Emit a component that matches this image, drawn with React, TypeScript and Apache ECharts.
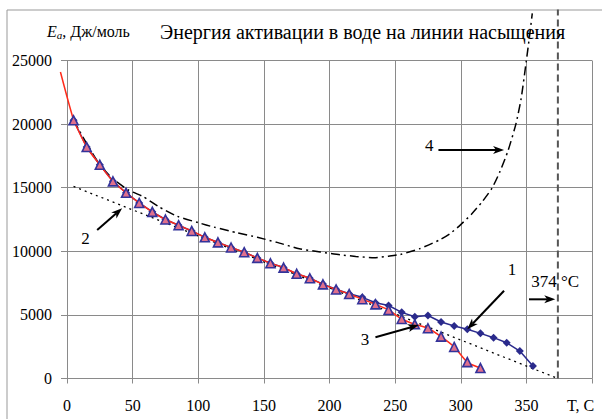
import React, { useEffect, useRef } from 'react';
import * as echarts from 'echarts';

// Curve 1 (blue diamonds)
const T1 = [5, 15, 25, 35, 45, 55, 65, 75, 85, 95, 105, 115, 125, 135, 145, 155, 165, 175, 185, 195, 205, 215, 225, 235, 245, 255, 265, 275, 285, 295, 305, 315, 325, 335, 345, 355];
const E1 = [20300, 18200, 16800, 15500, 14600, 13800, 13100, 12500, 12050, 11600, 11100, 10700, 10300, 9930, 9480, 9060, 8720, 8230, 7880, 7420, 7020, 6660, 6380, 5960, 5740, 5200, 4860, 4950, 4440, 4130, 3870, 3550, 3210, 2810, 2160, 990];

// Curve 3 (red line with triangles)
const T3 = [5, 15, 25, 35, 45, 55, 65, 75, 85, 95, 105, 115, 125, 135, 145, 155, 165, 175, 185, 195, 205, 215, 225, 235, 245, 255, 265, 275, 285, 295, 305, 315];
const E3 = [20300, 18200, 16800, 15500, 14600, 13800, 13100, 12500, 12050, 11600, 11100, 10700, 10300, 9930, 9480, 9060, 8720, 8230, 7880, 7400, 7000, 6640, 6230, 5830, 5390, 4680, 4260, 3950, 3290, 2480, 1290, 820];
// Start of the red fitted line (no markers), reaching left of the axis
const T3_START = [-5, 0, 5];
const E3_START = [24100, 22150, 20300];

// Curve 2 (dotted straight line)
const T2 = [5, 374];
const E2 = [15100, 0];

// Curve 4 (dash-dot)
const T4 = [5, 12, 25, 35, 47, 58, 70, 84, 100, 112, 130, 145, 160, 177, 193, 208, 220, 234, 245, 254, 269, 284, 292, 300, 308, 316, 324, 330, 336, 342, 346, 350, 352.5, 354.5];
const E4 = [20300, 19000, 16800, 15700, 14800, 14300, 13500, 12750, 12250, 11900, 11450, 11100, 10700, 10200, 9950, 9720, 9600, 9500, 9620, 9750, 10220, 10900, 11400, 12100, 12900, 13850, 15000, 16300, 17900, 20000, 22000, 25000, 27000, 28700];

// Critical temperature line
const TCRIT = [374, 374];
const ECRIT = [0, 29000];

const X_MIN = 0, X_MAX = 400, X_STEP = 50;
const Y_MIN = 0, Y_MAX = 25000, Y_STEP = 5000;
const X_TICKS = [0, 50, 100, 150, 200, 250, 300, 350];
const Y_TICKS = [0, 5000, 10000, 15000, 20000, 25000];

const TITLE = 'Энергия активации в воде на линии насыщения';
const X_NAME = 'T, C';
const CRIT_LABEL = '374 °C';

// Annotations in data coordinates: label position, arrow tail, arrow tip
const ANNOTATIONS = [
  { text: '1', at: [339, 8600], from: [333, 6900], to: [305, 3870] },
  { text: '2', at: [14, 11000], from: [23, 11670], to: [42, 13380] },
  { text: '3', at: [227, 3030], from: [235, 3240], to: [268, 4200] },
  { text: '4', at: [276, 18350], from: [283, 17960], to: [333, 17960] },
  { text: CRIT_LABEL, at: [372, 7600], from: [352, 6225], to: [372, 6225] },
];

const FONT = 'Liberation Serif';
const GRID_COLOR = '#8a8a8a';
const RED = '#ff2a1a';

function zip(xs: number[], ys: number[]) {
  return xs.map((x, i) => [x, ys[i]]);
}

function arrow(p0: number[], p1: number[]) {
  const dx = p1[0] - p0[0];
  const dy = p1[1] - p0[1];
  const len = Math.sqrt(dx * dx + dy * dy) || 1;
  const ux = dx / len, uy = dy / len;
  const hl = 11, hw = 4;
  const bx = p1[0] - ux * hl, by = p1[1] - uy * hl;
  return [
    {
      type: 'line',
      shape: { x1: p0[0], y1: p0[1], x2: bx + ux * 3, y2: by + uy * 3 },
      style: { stroke: '#000', lineWidth: 2 },
      silent: true,
    },
    {
      type: 'polygon',
      shape: {
        points: [
          [p1[0], p1[1]],
          [bx - uy * hw, by + ux * hw],
          [bx + ux * 3, by + uy * 3],
          [bx + uy * hw, by - ux * hw],
        ],
      },
      style: { fill: '#000' },
      silent: true,
    },
  ];
}

const txt = (text: string, x: number, y: number, align: string, size = 16) => ({
  type: 'text',
  x,
  y,
  style: { text, fontFamily: FONT, fontSize: size, fill: '#000', align, verticalAlign: 'middle' },
  z: 10,
});

export default function App() {
  const ref = useRef<HTMLDivElement>(null);
  useEffect(() => {
    if (!ref.current) return;
    const chart = echarts.init(ref.current, null, { renderer: 'svg' });
    const option: any = {
      animation: false,
      backgroundColor: '#fff',
      grid: { left: 67, right: 10, top: 60.5, bottom: 40.5, containLabel: false },
      xAxis: {
        type: 'value',
        min: X_MIN,
        max: X_MAX,
        interval: X_STEP,
        axisLine: { show: true, lineStyle: { color: GRID_COLOR, width: 1 } },
        axisTick: { show: true, inside: false, length: 5, lineStyle: { color: GRID_COLOR } },
        axisLabel: { show: false },
        splitLine: { show: true, lineStyle: { color: GRID_COLOR, width: 1 } },
      },
      yAxis: {
        type: 'value',
        min: Y_MIN,
        max: Y_MAX,
        interval: Y_STEP,
        axisLine: { show: true, lineStyle: { color: GRID_COLOR, width: 1 } },
        axisTick: { show: true, inside: false, length: 6, lineStyle: { color: GRID_COLOR } },
        axisLabel: { show: false },
        splitLine: { show: true, lineStyle: { color: GRID_COLOR, width: 1 } },
      },
      series: [
        {
          name: '2',
          type: 'line',
          data: zip(T2, E2),
          showSymbol: false,
          clip: false,
          lineStyle: { color: '#000', width: 1.3, type: [2, 4] },
          z: 2,
        },
        {
          name: 'crit',
          type: 'line',
          data: zip(TCRIT, ECRIT),
          showSymbol: false,
          clip: false,
          lineStyle: { color: '#555', width: 2, type: [7, 4] },
          z: 2,
        },
        {
          name: '4',
          type: 'line',
          data: zip(T4, E4),
          showSymbol: false,
          clip: false,
          smooth: 0.2,
          lineStyle: { color: '#000', width: 1.5, type: [9, 4, 2, 4] },
          z: 3,
        },
        {
          name: '1',
          type: 'line',
          data: zip(T1, E1),
          symbol: 'diamond',
          symbolSize: 8,
          clip: false,
          lineStyle: { color: '#2a2a8c', width: 1.5 },
          itemStyle: { color: '#2a2a8c' },
          z: 4,
        },
        {
          name: '3',
          type: 'line',
          data: zip(T3, E3),
          symbol: 'triangle',
          symbolSize: 9,
          smooth: 0.25,
          clip: false,
          lineStyle: { color: RED, width: 1.5 },
          itemStyle: { color: '#e0708c', borderColor: '#33339a', borderWidth: 1.6 },
          z: 5,
        },
      ],
    };
    chart.setOption(option);

    const toPx = (p: number[]) => chart.convertToPixel({ gridIndex: 0 }, p) as number[];
    const graphics: any[] = [
      {
        type: 'rect',
        shape: { x: 7, y: 10, width: 610, height: 430 },
        style: { fill: 'none', stroke: '#999', lineWidth: 1 },
        silent: true,
        z: 0,
      },
      {
        type: 'polyline',
        shape: { points: zip(T3_START, E3_START).map(toPx), smooth: 0.3 },
        style: { stroke: RED, lineWidth: 1.5, fill: 'none' },
        silent: true,
        z: 4,
      },
      txt(TITLE, 160, 32, 'left', 20),
      {
        type: 'text',
        x: 47,
        y: 31,
        style: {
          text: '{e|E}{s|a}{n|, Дж/моль}',
          verticalAlign: 'middle',
          rich: {
            e: { fontFamily: FONT, fontStyle: 'italic', fontSize: 16, fill: '#000' },
            s: { fontFamily: FONT, fontStyle: 'italic', fontSize: 11, fill: '#000', padding: [8, 0, 0, 0] },
            n: { fontFamily: FONT, fontSize: 16, fill: '#000' },
          },
        },
        z: 10,
      },
    ];
    X_TICKS.forEach((v) => {
      const p = toPx([v, Y_MIN]);
      graphics.push(txt(String(v), p[0], p[1] + 27, 'center'));
    });
    Y_TICKS.forEach((v) => {
      const p = toPx([X_MIN, v]);
      graphics.push(txt(String(v), p[0] - 15, p[1], 'right'));
    });
    const xAxisPx = toPx([X_MAX, Y_MIN]);
    graphics.push(txt(X_NAME, xAxisPx[0] - 25, xAxisPx[1] + 27, 'left'));
    ANNOTATIONS.forEach((a) => {
      const at = toPx(a.at);
      graphics.push(txt(a.text, at[0], at[1], 'center', 17));
      arrow(toPx(a.from), toPx(a.to)).forEach((g) => graphics.push({ ...g, z: 10 }));
    });
    chart.setOption({ graphic: graphics });

    return () => chart.dispose();
  }, []);
  return <div ref={ref} style={{ position: 'fixed', left: 0, top: 0, width: 602, height: 419 }} />;
}
